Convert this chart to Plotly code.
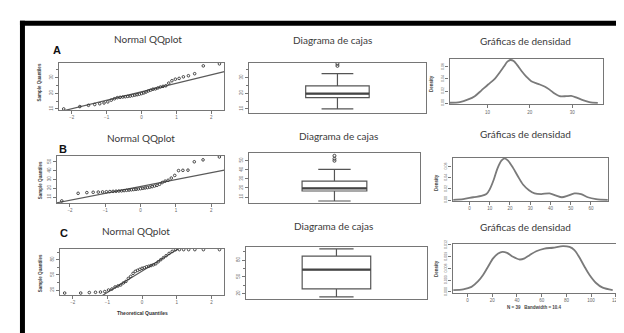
import numpy as np
import plotly.graph_objects as go
from statistics import NormalDist

# ---------------- data ----------------
sample_a = [10.0, 11.5, 12.3, 12.8, 13.3, 13.8, 14.5, 15.6, 16.5, 17.2, 17.4, 17.6, 17.8,
            18.0, 18.2, 18.5, 18.8, 19.1, 19.4, 19.8, 20.2, 20.8, 21.5, 22.0, 22.6, 22.8,
            23.4, 24.0, 24.4, 24.8, 26.5, 28.0, 29.0, 29.5, 30.5, 31.2, 32.5, 37.5, 38.8]
sample_b = [5.6, 14.2, 15.0, 15.4, 15.6, 15.8, 16.0, 16.2, 16.4, 16.6, 16.8, 17.0, 17.3,
            17.6, 17.9, 18.2, 18.5, 18.8, 19.1, 19.5, 19.9, 20.3, 20.7, 21.2, 21.8, 22.5,
            23.3, 24.5, 26.5, 28.0, 29.0, 31.5, 34.5, 40.0, 40.3, 40.5, 50.0, 52.2, 55.5]
sample_c = [14, 14, 15, 15.5, 16, 17, 20, 22, 26, 28, 30, 34, 37, 43, 47, 53, 57, 59, 61,
            63, 64, 66, 67, 68.5, 70, 72, 76, 80, 84, 88, 92.5, 96.5, 100, 100, 100, 100,
            100, 100, 100]

dens_a_x = [1.13, 3.48, 5.46, 7.01, 8.59, 10.16, 11.72, 12.89, 13.84, 14.71, 15.41, 16.19,
            16.99, 18.0, 19.18, 20.35, 21.93, 23.48, 24.66, 25.84, 27.01, 28.59, 29.76,
            30.94, 32.52, 34.07, 36.05]
dens_a_y = [0.0005, 0.0016, 0.0060, 0.0114, 0.0211, 0.0309, 0.0402, 0.0509, 0.0602, 0.0688,
            0.0715, 0.0699, 0.0634, 0.0537, 0.0439, 0.0363, 0.0320, 0.0276, 0.0223, 0.0158,
            0.0114, 0.0114, 0.0119, 0.0093, 0.0049, 0.0016, 0.0003]
dens_b_x = [-8.03, -3.10, 1.82, 5.91, 8.37, 10.0, 11.97, 13.79, 15.76, 17.39, 19.06, 21.53,
            23.99, 26.45, 29.41, 32.17, 35.47, 39.56, 42.86, 45.67, 48.62, 51.87, 55.17,
            58.47, 62.56, 68.33]
dens_b_y = [0.0005, 0.0017, 0.0051, 0.0074, 0.0108, 0.0193, 0.0364, 0.0564, 0.0706, 0.0747,
            0.0706, 0.0576, 0.0422, 0.0279, 0.0176, 0.0120, 0.0108, 0.0120, 0.0080, 0.0051,
            0.0080, 0.0120, 0.0108, 0.0051, 0.0017, 0.0003]
dens_c_x = [-11.5, -3.5, 3.2, 8.6, 12.7, 16.7, 20.7, 24.8, 28.2, 32.0, 36.8, 42.2, 46.2,
            50.2, 55.6, 62.3, 69.1, 77.2, 82.5, 86.5, 90.6, 94.6, 98.6, 104.0, 109.4, 117.5]
dens_c_y = [0.0005, 0.00068, 0.0013, 0.00275, 0.0044, 0.0065, 0.0086, 0.0098, 0.01025,
            0.0100, 0.0090, 0.0083, 0.0086, 0.0094, 0.0104, 0.0111, 0.0113, 0.0117, 0.0115,
            0.0107, 0.0088, 0.0065, 0.0044, 0.0023, 0.0011, 0.0005]

panel_letters = ["A", "B", "C"]
title_qq = "Normal QQplot"
title_box = "Diagrama de cajas"
title_dens = "Gráficas de densidad"
qq_xticks = [-2, -1, 0, 1, 2]
qq_yticks = [[10, 20, 30], [10, 20, 30, 40, 50], [20, 50, 80]]
dens_xticks = [[10, 20, 30], [0, 10, 20, 30, 40, 50, 60], [0, 20, 40, 60, 80, 100, 120]]
dens_yticks = [[0, 0.02, 0.04, 0.06], [0, 0.02, 0.04, 0.06], [0, 0.003, 0.006, 0.009, 0.012]]
dens_ytext = [["0.00", "0.02", "0.04", "0.06"], ["0.00", "0.02", "0.04", "0.06"],
              ["0.000", "0.003", "0.006", "0.009", "0.012"]]
dens_c_label = "N = 39   Bandwidth = 10.4"

# ---------------- layout geometry (pixels) ----------------
W, H = 624, 333
def fx(px): return px / W
def fy(py): return 1 - py / H

qq_boxes = [(51, 217, 52, 100), (49, 217, 147, 195), (52, 217, 242, 289)]
bx_boxes = [(242, 419, 52, 103), (242, 413, 144, 195), (239, 420, 240, 293)]
dn_boxes = [(443, 597, 48, 94), (446, 602, 149, 193), (446, 612, 237, 287)]
qq_yr = [[9.375, 39.4], [3.33, 56.67], [10.3, 101.4]]
bx_yr = [[7.5, 39.4], [3.5, 58.6], [10.5, 103.5]]
dn_xr = [[1.06, 37.3], [-8.37, 68.5], [-12.1, 121.8]]
dn_yr = [[-0.0016, 0.0732], [-0.0015, 0.0755], [-0.00025, 0.01225]]
qq_minor = [dict(dtick=5, tick0=0), dict(dtick=10, tick0=0), dict(dtick=15, tick0=5)]
bx_minor = qq_minor
box_w = [0.72, 0.76, 0.76]

LINE = "#767676"
TICKFONT = dict(family="Liberation Sans", size=4.5, color="#666")

fig = go.Figure()
layout = {}
n_ax = 0

def axis(domain_px, rng, horizontal, **kw):
    a, b = domain_px
    if horizontal:
        dom = [fx(a), fx(b)]
    else:
        dom = [fy(b), fy(a)]
    d = dict(domain=dom, range=rng, showline=True, mirror=True, linecolor=LINE,
             linewidth=1.2, ticks="outside", ticklen=3, tickcolor=LINE, tickwidth=1,
             showgrid=False, zeroline=False, tickfont=TICKFONT, fixedrange=True)
    d.update(kw)
    return d

def new_axes():
    global n_ax
    n_ax += 1
    s = "" if n_ax == 1 else str(n_ax)
    return "x" + s, "y" + s, "xaxis" + s, "yaxis" + s

nd = NormalDist()
qq_xr = [-2.371, 2.371]
for k, sample in enumerate([sample_a, sample_b, sample_c]):
    # ---- QQ plot ----
    xa, ya, xk, yk = new_axes()
    x0, x1, y0, y1 = qq_boxes[k]
    s = np.sort(np.array(sample, dtype=float))
    n = len(s)
    theo = [nd.inv_cdf((i + 0.5) / n) for i in range(n)]
    q1, q3 = np.quantile(s, [0.25, 0.75])
    t1, t3 = nd.inv_cdf(0.25), nd.inv_cdf(0.75)
    slope = (q3 - q1) / (t3 - t1)
    inter = q1 - slope * t1
    fig.add_trace(go.Scatter(x=qq_xr, y=[inter + slope * v for v in qq_xr], mode="lines",
                             line=dict(color="#5a5a5a", width=1.2), xaxis=xa, yaxis=ya,
                             showlegend=False, hoverinfo="skip"))
    fig.add_trace(go.Scatter(x=theo, y=s, mode="markers",
                             marker=dict(symbol="circle-open", size=2.6, color="#333",
                                         line=dict(width=0.9, color="#333")),
                             xaxis=xa, yaxis=ya, showlegend=False))
    layout[xk] = axis((x0, x1), qq_xr, True, anchor=ya, tickvals=qq_xticks)
    layout[yk] = axis((y0, y1), qq_yr[k], False, anchor=xa, tickvals=qq_yticks[k],
                      tickangle=-90,
                      minor=dict(ticks="outside", ticklen=2, tickcolor=LINE, showgrid=False,
                                 **qq_minor[k]))

    # ---- box plot ----
    xa, ya, xk, yk = new_axes()
    x0, x1, y0, y1 = bx_boxes[k]
    fig.add_trace(go.Box(y=s, x0=0, width=box_w[k], boxpoints="outliers",
                         whiskerwidth=0.5, fillcolor="white",
                         line=dict(color="#555", width=1.2),
                         marker=dict(symbol="circle-open", size=3, color="#444",
                                     line=dict(width=1, color="#444")),
                         xaxis=xa, yaxis=ya, showlegend=False))
    med = float(np.median(s))
    fig.add_trace(go.Scatter(x=[-box_w[k] / 2, box_w[k] / 2], y=[med, med], mode="lines",
                             line=dict(color="#444", width=2.2), xaxis=xa, yaxis=ya,
                             showlegend=False, hoverinfo="skip"))
    layout[xk] = axis((x0, x1), [-1, 1], True, anchor=ya, ticks="",
                      showticklabels=False)
    layout[yk] = axis((y0, y1), bx_yr[k], False, anchor=xa, tickvals=qq_yticks[k],
                      tickangle=-90,
                      minor=dict(ticks="outside", ticklen=2, tickcolor=LINE, showgrid=False,
                                 **bx_minor[k]))

    # ---- density ----
    xa, ya, xk, yk = new_axes()
    x0, x1, y0, y1 = dn_boxes[k]
    dx = [dens_a_x, dens_b_x, dens_c_x][k]
    dy = [dens_a_y, dens_b_y, dens_c_y][k]
    fig.add_trace(go.Scatter(x=dx, y=dy, mode="lines",
                             line=dict(color="#7a7a7a", width=1.8, shape="spline", smoothing=0.8),
                             xaxis=xa, yaxis=ya, showlegend=False))
    layout[xk] = axis((x0, x1), dn_xr[k], True, anchor=ya, tickvals=dens_xticks[k])
    layout[yk] = axis((y0, y1), dn_yr[k], False, anchor=xa, tickvals=dens_yticks[k],
                      ticktext=dens_ytext[k], tickangle=-90,
                      tickfont=dict(family="Liberation Sans", size=3.6, color="#666"))

# ---------------- text ----------------
TITLE_FONT = dict(family="Lato", size=10, color="#3a3a3a")
ann = []
def text(px, py, t, font, angle=0):
    ann.append(dict(x=fx(px), y=fy(py), xref="paper", yref="paper", text=t,
                    showarrow=False, xanchor="center", yanchor="middle",
                    font=font, textangle=angle))

qq_title_pos = [(140, 28), (133, 129), (128, 224)]
bx_title_pos = [(326, 29), (332, 127), (327, 219)]
dn_title_pos = [(519, 30), (519, 125), (519, 220)]
letter_pos = [(49, 39), (55, 140), (56, 226)]
for k in range(3):
    text(*qq_title_pos[k], title_qq, TITLE_FONT)
    text(*bx_title_pos[k], title_box, TITLE_FONT)
    text(*dn_title_pos[k], title_dens, TITLE_FONT)
    text(*letter_pos[k], "<b>" + panel_letters[k] + "</b>",
         dict(family="Liberation Sans", size=11, color="#111"))

SMALL = dict(family="Liberation Sans", size=4.5, color="#444")
for py in [72, 172, 267]:
    text(32, py, "<b>Sample Quantiles</b>", SMALL, -90)
for (px, py) in [(425, 73), (430, 174), (430, 262)]:
    text(px, py, "<b>Density</b>", SMALL, -90)
text(135, 307, "<b>Theoretical Quantiles</b>", dict(family="Liberation Sans", size=5, color="#333"))
text(528, 302, "<b>" + dens_c_label + "</b>", dict(family="Liberation Sans", size=4.5, color="#444"))

shapes = [
    dict(type="rect", xref="paper", yref="paper", x0=fx(12), x1=fx(17), y0=0, y1=fy(9),
         fillcolor="black", line=dict(width=0)),
    dict(type="rect", xref="paper", yref="paper", x0=fx(12), x1=1, y0=fy(14), y1=fy(9),
         fillcolor="black", line=dict(width=0)),
]

fig.update_layout(width=W, height=H, margin=dict(l=0, r=0, t=0, b=0),
                  paper_bgcolor="white", plot_bgcolor="white",
                  annotations=ann, shapes=shapes, showlegend=False, **layout)
fig.write_html("out.html")
